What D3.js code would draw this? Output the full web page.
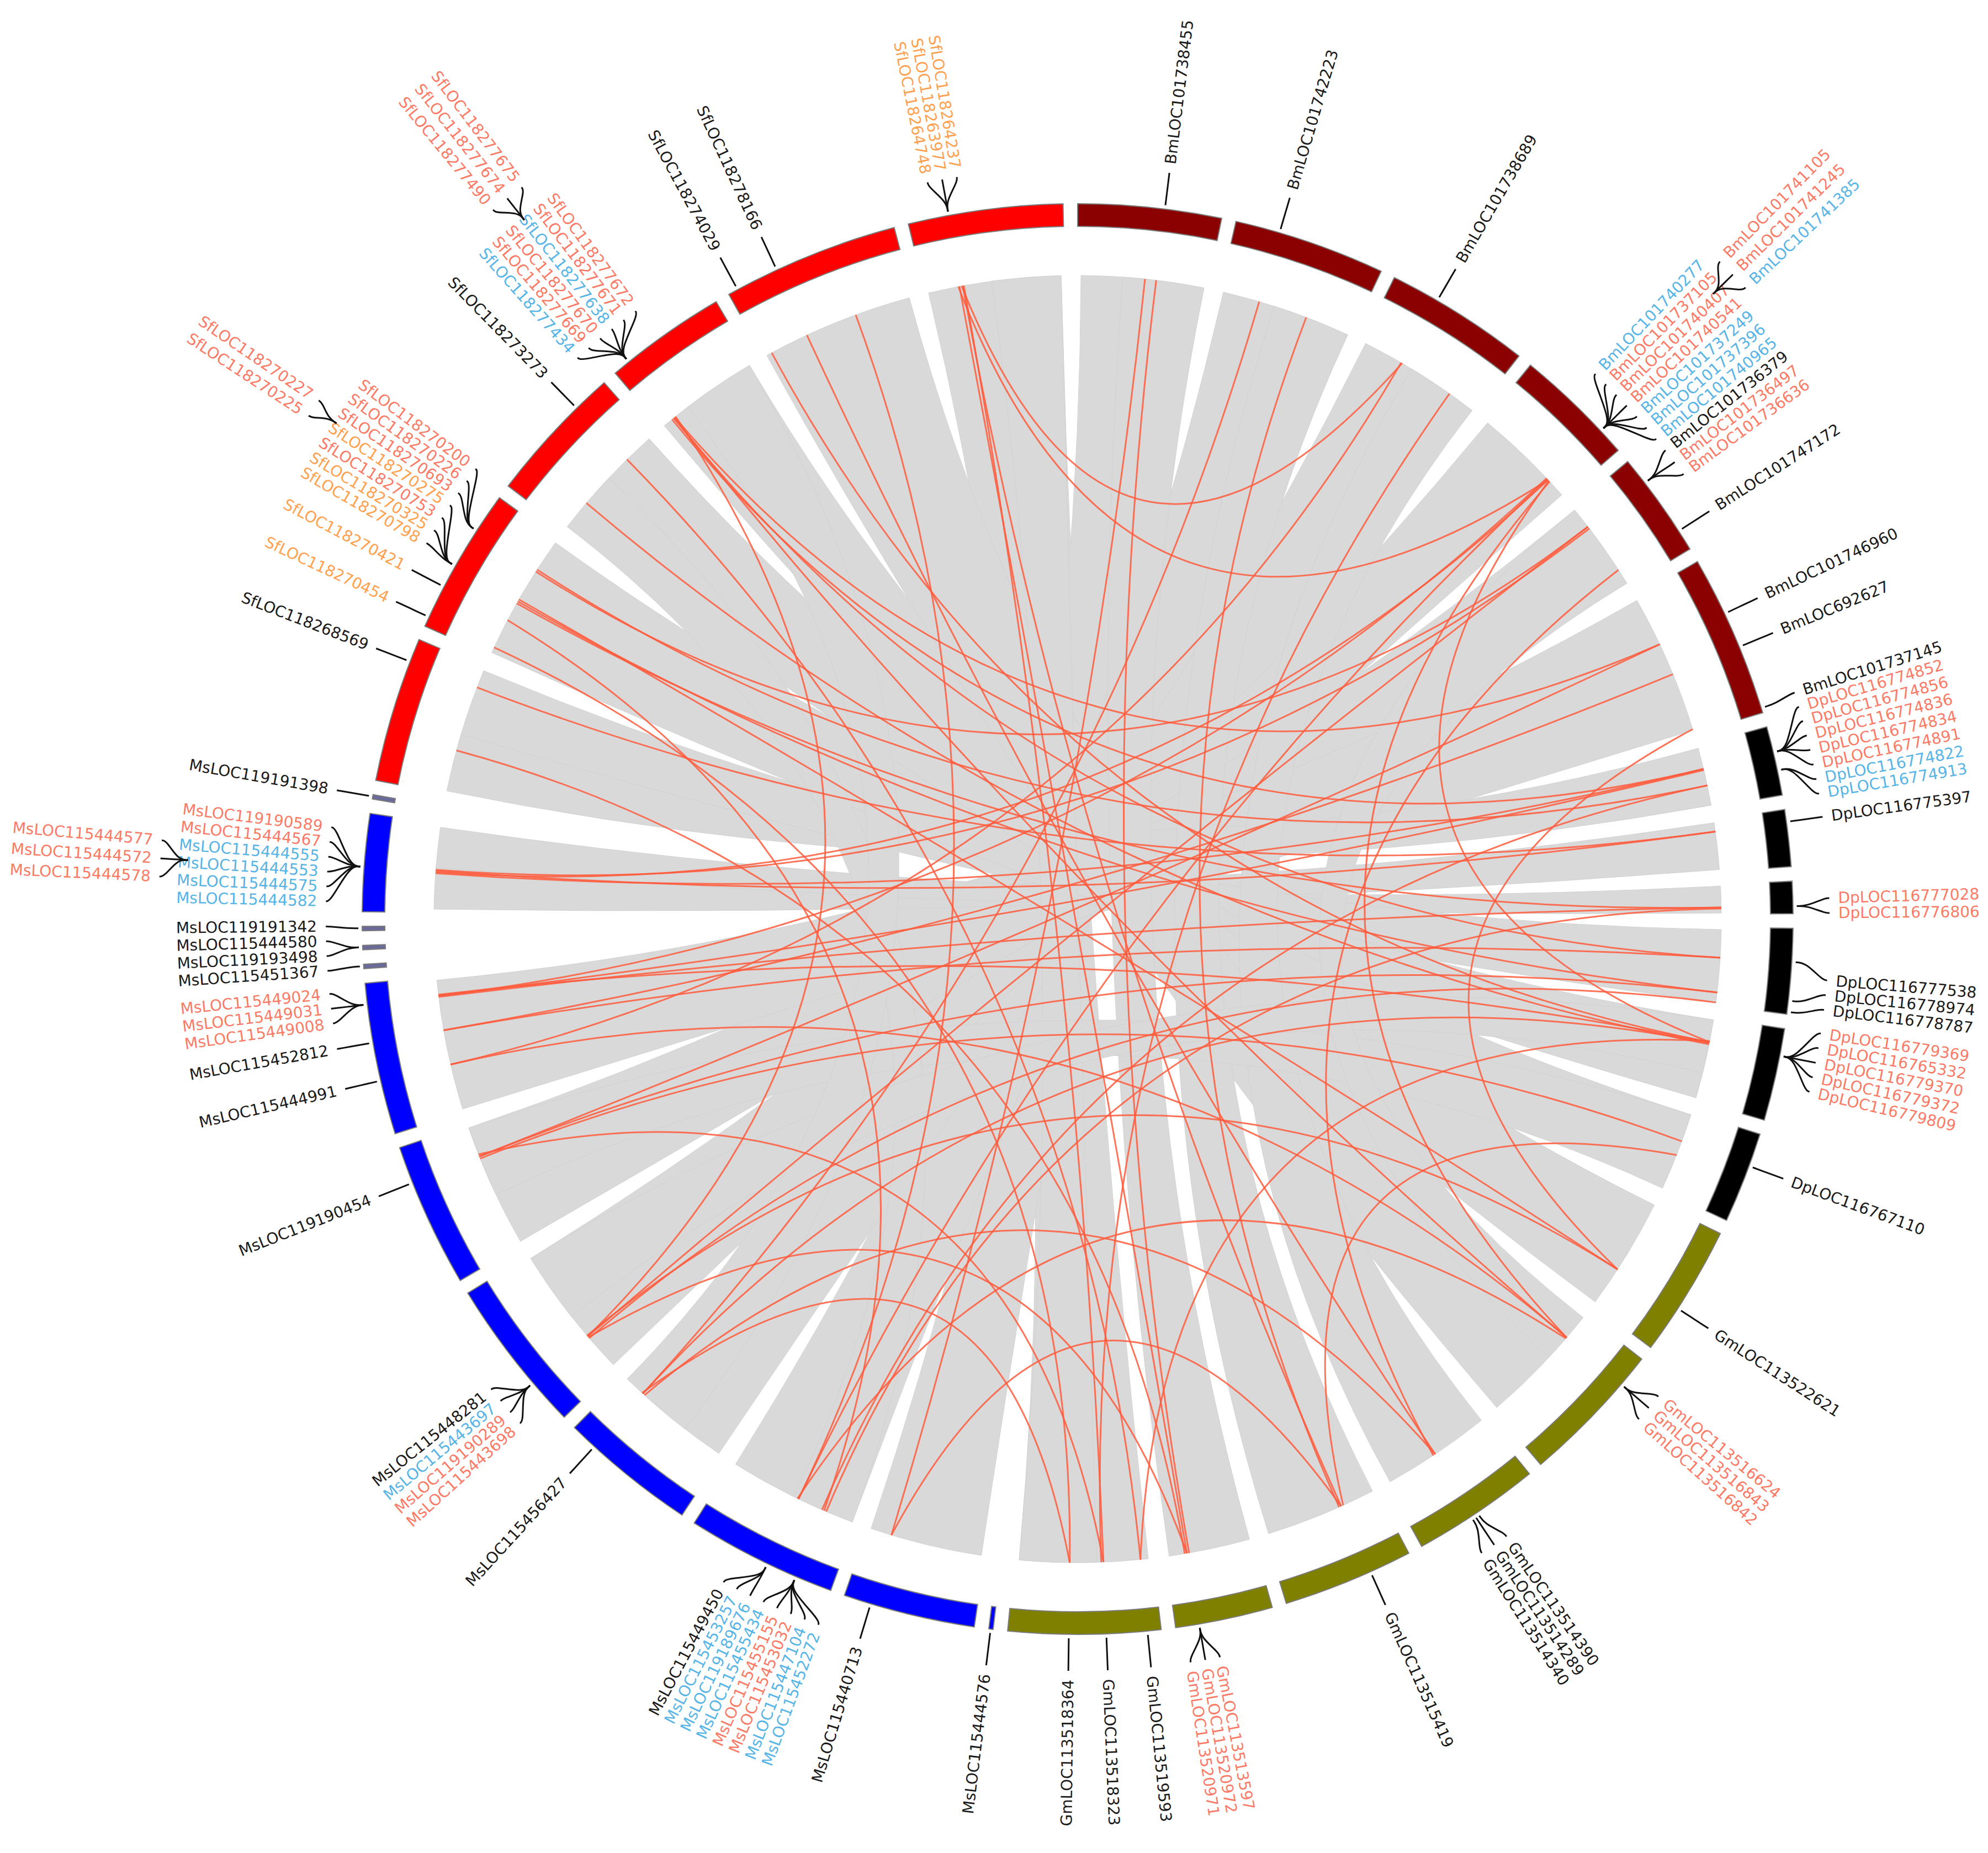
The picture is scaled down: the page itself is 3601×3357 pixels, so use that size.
<!DOCTYPE html>
<html>
<head>
<meta charset="utf-8">
<script src="https://cdn.jsdelivr.net/npm/d3@7"></script>
<style>
  body { margin: 0; background: #fff; }
  text { font-family: "DejaVu Sans", Verdana, sans-serif; }
</style>
</head>
<body>
<svg id="chart" width="3601" height="3357"></svg>
<script>
// chromosomes in clockwise order from 12 o'clock, lengths in arbitrary units
var chromNames = ['Bm1','Bm2','Bm3','Bm4','Bm5','Bm6',
                  'Dp1','Dp2','Dp3','Dp4','Dp5','Dp6',
                  'Gm1','Gm2','Gm3','Gm4','Gm5','Gm6',
                  'Ms0','Ms1','Ms2','Ms3','Ms4','Ms5','Ms6','Mx1','Mx2','Mx3','Ms7','My',
                  'Sf1','Sf2','Sf3','Sf4','Sf5','Sf6'];
var chromLengths = [11.6, 12.3, 11.8, 9.8, 8.6, 13.2,
                    5.6, 4.6, 2.6, 6.9, 7.5, 7.4,
                    10.7, 11.7, 10.4, 10.6, 7.9, 12.3,
                    0.35, 10.7, 12.2, 11.1, 12.6, 11.7, 12.3, 0.35, 0.35, 0.35, 7.9, 0.35,
                    11.8, 11.9, 11.3, 9.9, 14.3, 12.5];
var speciesColors = { Bm: '#8b0000', Dp: '#000000', Gm: '#808000', Ms: '#0000ff', Mx: '#6a6a9a', My: '#6a6a9a', Sf: '#ff0000' };

// grey synteny blocks: [chrA, startA, endA, chrB, startB, endB]
var ribbons = [
  ['Sf6',0.3,12.2,'Gm6',0.4,11.9], ['Bm1',0.3,11.3,'Ms1',0.3,10.4],
  ['Bm2',0.3,12.0,'Ms2',0.3,11.9], ['Bm3',0.3,11.5,'Ms3',0.3,10.8],
  ['Bm4',0.3,9.5,'Ms4',0.3,12.3], ['Bm5',0.3,8.3,'Ms5',0.3,11.4],
  ['Bm6',0.3,12.9,'Ms6',0.3,12.0], ['Dp1',0.2,5.4,'Sf1',0.3,5.5],
  ['Dp2',0.2,4.4,'Ms7',0.3,4.0], ['Dp3',0.1,2.5,'Ms7',4.0,7.6],
  ['Dp4',0.2,6.7,'Sf1',5.5,11.5], ['Dp5',0.2,7.3,'Sf2',0.3,11.6],
  ['Dp6',0.2,7.2,'Sf3',0.3,11.0], ['Gm1',0.3,10.4,'Sf4',0.3,9.6],
  ['Gm2',0.3,11.4,'Sf5',0.3,14.0], ['Gm3',0.3,10.1,'Bm3',5.0,11.5],
  ['Gm4',0.3,10.3,'Bm2',5.0,12.0], ['Gm5',0.3,7.6,'Bm1',4.0,11.3],
  ['Gm6',5.0,11.9,'Sf6',6.0,12.2], ['Ms5',5.0,11.4,'Dp6',0.2,7.2],
  ['Ms2',0.3,6.0,'Sf3',0.3,6.0], ['Ms4',6.0,12.3,'Dp5',0.2,5.0],
  ['Bm5',0.3,8.3,'Gm2',0.3,5.0], ['Ms3',4.0,10.8,'Sf4',3.0,9.6]
];

// red links between labelled genes: [chrA, posA, chrB, posB]
var redLinks = [
  ['Sf6',3.3,'Bm3',4],['Sf6',3.0,'Bm4',7.7],['Sf6',3.5,'Gm6',4.4],['Sf6',3.1,'Gm5',6],['Sf6',3.4,'Gm4',3.4],
  ['Sf5',0.8,'Dp5',2.2],['Sf5',4.3,'Gm3',5.4],['Sf5',9,'Ms2',5.5],
  ['Sf4',1.4,'Dp4',2.7],['Sf4',1.4,'Gm2',2.6],['Sf4',1.6,'Ms4',3.7],['Sf4',1.2,'Dp1',2.1],['Sf4',1.5,'Bm6',4.7],
  ['Sf3',8.3,'Gm6',1.1],['Sf3',3,'Dp5',2.4],
  ['Sf2',5.4,'Dp4',5.8],['Sf2',8.7,'Dp1',3.6],['Sf2',5.6,'Gm1',6.9],['Sf2',3.5,'Ms2',3],['Sf2',0.8,'Gm6',7.4],
  ['Sf2',8.5,'Bm5',2.2],['Sf2',5.2,'Dp3',2],['Sf1',9.9,'Dp2',1],['Sf1',4,'Gm5',6.2],
  ['Bm1',7,'Gm5',5.8],['Bm1',6,'Ms1',8.5],['Bm2',3.6,'Ms3',8.9],['Bm2',8,'Gm4',3.6],
  ['Bm3',3.9,'Ms6',4.4],['Bm3',9,'Gm6',4.6],
  ['Bm4',7.7,'Ms7',3.6],['Bm4',7.5,'Ms6',10.6],['Bm4',7.9,'Gm2',2.6],['Bm4',7.6,'Ms2',5.5],['Bm4',7.8,'Dp5',2.2],
  ['Bm5',2.2,'Ms4',3.7],['Bm5',6.9,'Gm3',5.6],['Bm5',2.4,'Ms7',3.8],
  ['Bm6',4.7,'Ms5',8.7],['Bm6',7.6,'Ms6',7.5],['Bm6',12.8,'Gm1',6.9],
  ['Dp1',2.1,'Ms7',3.5],['Dp1',2.2,'Ms6',10.6],['Dp1',3.6,'Ms2',3.2],
  ['Dp2',1,'Ms7',3.7],['Dp3',2,'Ms6',10.5],['Dp3',2.1,'Ms2',2.8],
  ['Dp4',2.7,'Ms6',7.5],['Dp4',5.8,'Ms5',8.7],['Dp4',6.7,'Ms4',3.5],
  ['Dp5',2.2,'Ms6',10.7],['Dp5',2.3,'Ms3',8.9],['Dp5',2.1,'Gm6',1.1],
  ['Dp6',2.7,'Ms5',8.5],['Dp6',4,'Gm4',3.2],
  ['Gm1',6.9,'Ms4',3.8],['Gm2',2.6,'Ms6',4.4],['Gm2',2.7,'Ms2',5.6],['Gm3',5.4,'Ms3',8.7],
  ['Gm4',3.4,'Ms1',8.5],['Gm5',6,'Ms4',3.6],['Gm6',4.4,'Ms5',8.9],['Gm6',7.4,'Ms3',9]
];

// gene labels: stacked names, fans = [chr, pos, number of names], tier 1 = outer ring, shift = stack offset in degrees
var labelGroups = [
  { tier: 0, fans: [['Bm1',7,1]], labels: [['BmLOC101738455','k']] },
  { tier: 0, fans: [['Bm2',3.6,1]], labels: [['BmLOC101742223','k']] },
  { tier: 0, fans: [['Bm3',3.9,1]], labels: [['BmLOC101738689','k']] },
  { tier: 0, fans: [['Bm4',7.7,7],['Bm5',2.2,3]], labels: [['BmLOC101740277','b'],['BmLOC101737105','r'],['BmLOC101740407','r'],['BmLOC101740541','r'],['BmLOC101737249','b'],['BmLOC101737396','b'],['BmLOC101740965','b'],['BmLOC101736379','k'],['BmLOC101736497','r'],['BmLOC101736636','r']] },
  { tier: 1, fans: [['Bm4',6.2,3]], labels: [['BmLOC101741105','r'],['BmLOC101741245','r'],['BmLOC101741385','b']] },
  { tier: 0, fans: [['Bm5',6.9,1]], labels: [['BmLOC101747172','k']] },
  { tier: 0, fans: [['Bm6',4.7,1]], labels: [['BmLOC101746960','k']] },
  { tier: 0, fans: [['Bm6',7.6,1]], labels: [['BmLOC692627','k']] },
  { tier: 0, fans: [['Bm6',12.8,1],['Dp1',2.1,5],['Dp1',3.6,2]], labels: [['BmLOC101737145','k'],['DpLOC116774852','r'],['DpLOC116774856','r'],['DpLOC116774836','r'],['DpLOC116774834','r'],['DpLOC116774891','r'],['DpLOC116774822','b'],['DpLOC116774913','b']] },
  { tier: 0, fans: [['Dp2',1,1]], labels: [['DpLOC116775397','k']] },
  { tier: 0, fans: [['Dp3',2,2]], labels: [['DpLOC116777028','r'],['DpLOC116776806','r']] },
  { tier: 0, fans: [['Dp4',2.7,1],['Dp4',5.8,1],['Dp4',6.7,1]], labels: [['DpLOC116777538','k'],['DpLOC116778974','k'],['DpLOC116778787','k']] },
  { tier: 0, fans: [['Dp5',2.2,5]], labels: [['DpLOC116779369','r'],['DpLOC116765332','r'],['DpLOC116779370','r'],['DpLOC116779372','r'],['DpLOC116779809','r']] },
  { tier: 0, fans: [['Dp6',2.7,1]], labels: [['DpLOC116767110','k']] },
  { tier: 0, fans: [['Gm1',6.9,1]], labels: [['GmLOC113522621','k']] },
  { tier: 0, fans: [['Gm2',2.6,3]], labels: [['GmLOC113516624','r'],['GmLOC113516843','r'],['GmLOC113516842','r']] },
  { tier: 0, fans: [['Gm3',5.2,1],['Gm3',5.5,1],['Gm3',5.8,1]], labels: [['GmLOC113514390','k'],['GmLOC113514289','k'],['GmLOC113514340','k']] },
  { tier: 0, fans: [['Gm4',3.4,1]], labels: [['GmLOC113515419','k']] },
  { tier: 0, fans: [['Gm5',6,3]], labels: [['GmLOC113513597','r'],['GmLOC113520972','r'],['GmLOC113520971','r']] },
  { tier: 0, fans: [['Gm6',1.1,1]], labels: [['GmLOC113519593','k']] },
  { tier: 0, fans: [['Gm6',4.4,1]], labels: [['GmLOC113518323','k']] },
  { tier: 0, fans: [['Gm6',7.4,1]], labels: [['GmLOC113518364','k']] },
  { tier: 0, fans: [['Ms0',0.2,1]], labels: [['MsLOC115444576','k']] },
  { tier: 0, fans: [['Ms1',8.5,1]], labels: [['MsLOC115440713','k']] },
  { tier: 0, fans: [['Ms2',3,5],['Ms2',5.5,3]], labels: [['MsLOC115452272','b'],['MsLOC115447104','b'],['MsLOC115453032','r'],['MsLOC115455155','r'],['MsLOC115455434','b'],['MsLOC119189676','b'],['MsLOC115453257','b'],['MsLOC115449450','k']] },
  { tier: 0, fans: [['Ms3',8.9,1]], labels: [['MsLOC115456427','k']] },
  { tier: 0, fans: [['Ms4',3.7,4]], labels: [['MsLOC115443698','r'],['MsLOC119190289','r'],['MsLOC115443697','b'],['MsLOC115448281','k']] },
  { tier: 0, fans: [['Ms5',8.7,1]], labels: [['MsLOC119190454','k']] },
  { tier: 0, fans: [['Ms6',4.4,1]], labels: [['MsLOC115444991','k']] },
  { tier: 0, fans: [['Ms6',7.5,1]], labels: [['MsLOC115452812','k']] },
  { tier: 0, fans: [['Ms6',10.6,3]], labels: [['MsLOC115449008','r'],['MsLOC115449031','r'],['MsLOC115449024','r']] },
  { tier: 0, fans: [['Mx1',0.2,1],['Mx2',0.2,2],['Mx3',0.2,1]], labels: [['MsLOC115451367','k'],['MsLOC119193498','k'],['MsLOC115444580','k'],['MsLOC119191342','k']] },
  { tier: 0, fans: [['Ms7',3.6,6]], labels: [['MsLOC115444582','b'],['MsLOC115444575','b'],['MsLOC115444553','b'],['MsLOC115444555','b'],['MsLOC115444567','r'],['MsLOC119190589','r']] },
  { tier: 1, fans: [['Ms7',3.2,3]], labels: [['MsLOC115444578','r'],['MsLOC115444572','r'],['MsLOC115444577','r']] },
  { tier: 0, fans: [['My',0.2,1]], labels: [['MsLOC119191398','k']] },
  { tier: 0, fans: [['Sf1',9.9,1]], labels: [['SfLOC118268569','k']] },
  { tier: 0, fans: [['Sf2',0.8,1]], labels: [['SfLOC118270454','o']] },
  { tier: 0, fans: [['Sf2',3.5,1]], labels: [['SfLOC118270421','o']] },
  { tier: 0, shift: 2.4, fans: [['Sf2',5.4,4],['Sf2',8.7,3]], labels: [['SfLOC118270798','o'],['SfLOC118270325','o'],['SfLOC118270753','r'],['SfLOC118270275','o'],['SfLOC118270693','r'],['SfLOC118270226','r'],['SfLOC118270200','r']] },
  { tier: 1, fans: [['Sf2',9.6,2]], labels: [['SfLOC118270225','r'],['SfLOC118270227','r']] },
  { tier: 0, fans: [['Sf3',8.3,1]], labels: [['SfLOC118273273','k']] },
  { tier: 0, fans: [['Sf4',1.4,6]], labels: [['SfLOC118277434','b'],['SfLOC118277669','r'],['SfLOC118277670','r'],['SfLOC118277638','b'],['SfLOC118277671','r'],['SfLOC118277672','r']] },
  { tier: 1, fans: [['Sf4',1.9,3]], labels: [['SfLOC118277490','r'],['SfLOC118277674','r'],['SfLOC118277675','r']] },
  { tier: 0, fans: [['Sf5',0.8,1]], labels: [['SfLOC118274029','k']] },
  { tier: 0, fans: [['Sf5',4.3,1]], labels: [['SfLOC118278166','k']] },
  { tier: 0, fans: [['Sf6',3.3,3]], labels: [['SfLOC118264748','o'],['SfLOC118263977','o'],['SfLOC118264237','o']] }
];
var labelColors = { k: '#1a1a1a', r: '#fa7a66', b: '#56b4e6', o: '#ffa04f' };

(function draw() {
  var cx = 1952, cy = 1665;
  var rIn = 1255, rOut = 1296, rLink = 1166;
  var gap = 1.17;
  var total = d3.sum(chromLengths);
  var k = (360 - gap * chromNames.length) / total;

  var starts = {};
  var acc = 0;
  chromNames.forEach(function(name, i) {
    starts[name] = acc;
    acc += chromLengths[i] * k + gap;
  });
  var toDeg = function(chr, pos) { return starts[chr] + pos * k; };
  var rad = function(deg) { return deg * Math.PI / 180; };
  var polar = function(r, deg) {
    var a = rad(deg);
    return [r * Math.sin(a), -r * Math.cos(a)];
  };

  var svg = d3.select('#chart');
  var g = svg.append('g').attr('transform', 'translate(' + cx + ',' + cy + ')');

  // grey ribbons
  var ribbon = d3.ribbon().radius(rLink);
  g.append('g').selectAll('path').data(ribbons).enter().append('path')
    .attr('d', function(d) {
      return ribbon({
        source: { startAngle: rad(toDeg(d[0], d[1])), endAngle: rad(toDeg(d[0], d[2])) },
        target: { startAngle: rad(toDeg(d[3], d[4])), endAngle: rad(toDeg(d[3], d[5])) }
      });
    })
    .attr('fill', '#d9d9d9')
    .attr('stroke', '#d2d2d2')
    .attr('stroke-width', 1);

  // red gene links
  g.append('g').selectAll('path').data(redLinks).enter().append('path')
    .attr('d', function(d) {
      var a1 = toDeg(d[0], d[1]), a2 = toDeg(d[2], d[3]);
      var diff = Math.abs(a1 - a2);
      if (diff > 180) { diff = 360 - diff; }
      var mid = (a1 + a2) / 2;
      if (Math.abs(a1 - a2) > 180) { mid += 180; }
      var cr = Math.max(0, 1 - diff / 110) * 0.6 * rLink;
      var p1 = polar(rLink, a1), p2 = polar(rLink, a2), c = polar(cr, mid);
      return 'M' + p1 + 'Q' + c + ' ' + p2;
    })
    .attr('fill', 'none')
    .attr('stroke', '#ff5a3c')
    .attr('stroke-opacity', 0.85)
    .attr('stroke-width', 3);

  // ideogram
  var arc = d3.arc().innerRadius(rIn).outerRadius(rOut);
  g.append('g').selectAll('path').data(chromNames).enter().append('path')
    .attr('d', function(name, i) {
      return arc({ startAngle: rad(starts[name]), endAngle: rad(starts[name] + chromLengths[i] * k) });
    })
    .attr('fill', function(name) { return speciesColors[name.slice(0, 2)]; })
    .attr('stroke', '#7a7a7a')
    .attr('stroke-width', 2);

  // labels
  var step = 1.13;
  var lab = g.append('g');
  labelGroups.forEach(function(grp) {
    var r0 = grp.tier ? 1615 : 1303;
    var r1 = grp.tier ? 1665 : 1362;
    var rt = r1 + 16;
    var fanAngles = grp.fans.map(function(f) { return toDeg(f[0], f[1]); });
    var n = grp.labels.length;
    var centre = d3.sum(grp.fans, function(f, i) { return fanAngles[i] * f[2]; }) / n + (grp.shift || 0);
    var idx = 0;
    grp.fans.forEach(function(f, fi) {
      for (var j = 0; j < f[2]; j++, idx++) {
        var ai = centre + (idx - (n - 1) / 2) * step;
        var a0 = fanAngles[fi];
        var pts = [polar(r0, a0), polar(r0 + 18, a0), polar(r1 - 8, ai), polar(r1, ai)];
        lab.append('path')
          .attr('d', d3.line().curve(d3.curveBasis)(pts))
          .attr('fill', 'none')
          .attr('stroke', '#111')
          .attr('stroke-width', 3);
        var flip = ai > 180;
        var lb = grp.labels[idx];
        lab.append('text')
          .attr('transform', 'rotate(' + (ai - 90) + ') translate(' + rt + ',0)' + (flip ? ' rotate(180)' : ''))
          .attr('text-anchor', flip ? 'end' : 'start')
          .attr('dominant-baseline', 'central')
          .attr('font-size', 28)
          .attr('fill', labelColors[lb[1]])
          .text(lb[0]);
      }
    });
  });
})();
</script>
</body>
</html>
